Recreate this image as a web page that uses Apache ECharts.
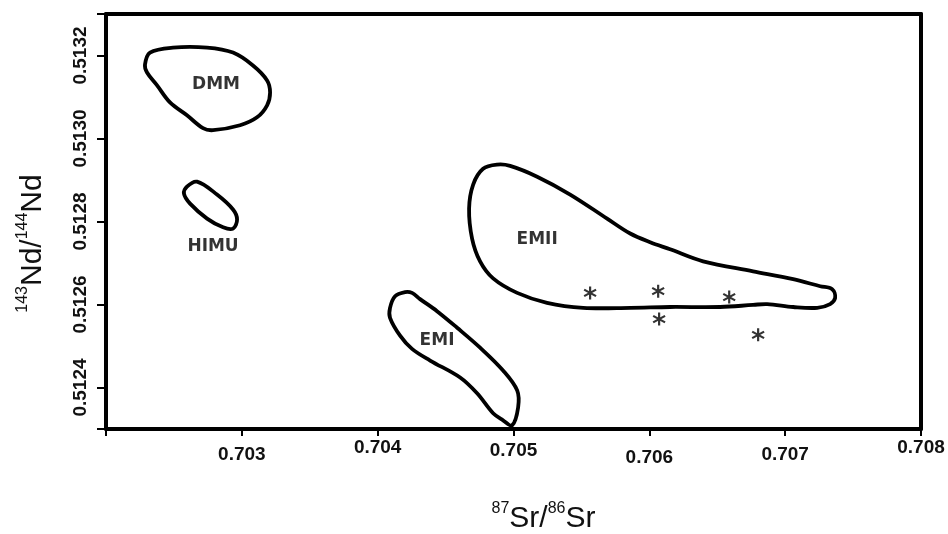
<!DOCTYPE html>
<html>
<head>
<meta charset="utf-8">
<script src="https://cdn.jsdelivr.net/npm/echarts@6/dist/echarts.min.js"></script>
<style>
  html, body { margin: 0; padding: 0; background: #fff; }
  #chart { width: 948px; height: 534px; }
</style>
</head>
<body>
<div id="chart"></div>
<script>
// 区域轮廓，每个点为 [87Sr/86Sr, 143Nd/144Nd]
const dmm = [
  [0.702287, 0.513178], [0.702324, 0.513207], [0.702493, 0.513219], [0.702744, 0.513219],
  [0.702935, 0.513207], [0.703082, 0.513176], [0.703186, 0.513140], [0.703208, 0.513111],
  [0.703186, 0.513080], [0.703112, 0.513051], [0.702987, 0.513032], [0.702788, 0.513020],
  [0.702714, 0.513025], [0.702596, 0.513056], [0.702471, 0.513087], [0.702376, 0.513128],
  [0.702302, 0.513159]
]
const himu = [
  [0.702596, 0.512884], [0.702670, 0.512896], [0.702817, 0.512865], [0.702935, 0.512829],
  [0.702965, 0.512805], [0.702935, 0.512783], [0.702862, 0.512786], [0.702744, 0.512807],
  [0.702619, 0.512843], [0.702574, 0.512867]
]
const emii = [
  [0.704879, 0.512937], [0.704975, 0.512934], [0.705174, 0.512908], [0.705417, 0.512865],
  [0.705689, 0.512807], [0.705859, 0.512771], [0.706006, 0.512750], [0.706153, 0.512733],
  [0.706396, 0.512704], [0.706764, 0.512680], [0.707059, 0.512661], [0.707258, 0.512644],
  [0.707346, 0.512637], [0.707368, 0.512616], [0.707331, 0.512601], [0.707236, 0.512592],
  [0.707059, 0.512594], [0.706867, 0.512601], [0.706764, 0.512599], [0.706521, 0.512594],
  [0.706153, 0.512594], [0.705859, 0.512592], [0.705513, 0.512592], [0.705247, 0.512604],
  [0.705027, 0.512628], [0.704850, 0.512663], [0.704754, 0.512704], [0.704695, 0.512759],
  [0.704673, 0.512831], [0.704703, 0.512889], [0.704776, 0.512927]
]
const emi = [
  [0.704202, 0.512630], [0.704253, 0.512628], [0.704312, 0.512613], [0.704437, 0.512584],
  [0.704585, 0.512544], [0.704754, 0.512496], [0.704923, 0.512441], [0.705027, 0.512393],
  [0.705034, 0.512352], [0.704990, 0.512309], [0.704923, 0.512321], [0.704850, 0.512338],
  [0.704732, 0.512386], [0.704607, 0.512424], [0.704386, 0.512465], [0.704253, 0.512493],
  [0.704165, 0.512525], [0.704091, 0.512568], [0.704091, 0.512592], [0.704128, 0.512620]
]
const regions = [dmm, himu, emii, emi]

// 区域名称及其位置
const regionNames = ['DMM', 'HIMU', 'EMII', 'EMI']
const regionLabelX = [0.702810, 0.702788, 0.705174, 0.704437]
const regionLabelY = [0.513131, 0.512740, 0.512757, 0.512513]

// 样品点
const sampleX = [0.705564, 0.706065, 0.706072, 0.706588, 0.706801]
const sampleY = [0.512628, 0.512632, 0.512565, 0.512618, 0.512527]

// 刻度
const xTickValues = [0.702, 0.703, 0.704, 0.705, 0.706, 0.707, 0.708]
const xLabelValues = [0.703, 0.704, 0.705, 0.706, 0.707, 0.708]
const yTickValues = [0.5123, 0.5124, 0.5126, 0.5128, 0.5130, 0.5132, 0.5133]
const yLabelValues = [0.5124, 0.5126, 0.5128, 0.5130, 0.5132]

// x 轴标签的上下错位（原图手工排版）
const xLabelDrop = { '0.703': 7, '0.704': 0, '0.705': 3, '0.706': 10, '0.707': 7, '0.708': 0 }

const FONT = 'Liberation Sans, Arial, sans-serif'
const $chart = document.getElementById('chart')
const chart = echarts.init($chart)

// 星号符号
const starPath = 'path://M42 0L58 0L58 100L42 100Z' +
  'M2.7 31.9L10.7 18.1L97.3 68.1L89.3 81.9Z' +
  'M10.7 81.9L2.7 68.1L89.3 18.1L97.3 31.9Z'

const xRich = {}
Object.keys(xLabelDrop).forEach((k, i) => {
  xRich['t' + i] = {
    fontFamily: FONT, fontWeight: 'bold', fontSize: 19, color: '#111',
    padding: [xLabelDrop[k], 0, 0, 0]
  }
})

const supStyle = { fontFamily: FONT, fontSize: 16, color: '#111', verticalAlign: 'top', lineHeight: 36 }
const mainStyle = { fontFamily: FONT, fontSize: 30, color: '#111', lineHeight: 36 }

const frameLine = { show: true, lineStyle: { color: '#000', width: 4 } }

const option = {
  animation: false,
  backgroundColor: '#fff',
  grid: { left: 106, right: 27, top: 14, bottom: 105, outerBoundsMode: 'none' },
  xAxis: [
    {
      type: 'value',
      min: 0.702,
      max: 0.708,
      position: 'bottom',
      axisLine: frameLine,
      splitLine: { show: false },
      axisTick: {
        show: true, inside: false, length: 7, customValues: xTickValues,
        lineStyle: { color: '#000', width: 2 }
      },
      axisLabel: {
        show: true,
        margin: 9,
        customValues: xLabelValues,
        formatter(value) {
          const key = value.toFixed(3)
          const idx = Object.keys(xLabelDrop).indexOf(key)
          return `{t${idx}|${key}}`
        },
        rich: xRich
      },
      name: '{sup|87}{main|Sr/}{sup|86}{main|Sr}',
      nameLocation: 'middle',
      nameGap: 72,
      nameTextStyle: {
        padding: [0, 0, 0, 60],
        rich: { sup: supStyle, main: mainStyle }
      }
    },
    {
      type: 'value',
      min: 0.702,
      max: 0.708,
      position: 'top',
      axisLine: frameLine,
      axisTick: { show: false },
      axisLabel: { show: false },
      splitLine: { show: false }
    }
  ],
  yAxis: [
    {
      type: 'value',
      min: 0.5123,
      max: 0.5133,
      position: 'left',
      axisLine: frameLine,
      splitLine: { show: false },
      axisTick: {
        show: true, inside: false, length: 9, customValues: yTickValues,
        lineStyle: { color: '#000', width: 2 }
      },
      axisLabel: {
        show: true,
        rotate: 90,
        margin: 16,
        customValues: yLabelValues,
        fontFamily: FONT,
        fontWeight: 'bold',
        fontSize: 19,
        color: '#111',
        formatter(value) {
          return value.toFixed(4)
        }
      },
      name: '{sup|143}{main|Nd/}{sup|144}{main|Nd}',
      nameLocation: 'middle',
      nameRotate: 90,
      nameGap: 55,
      nameTextStyle: {
        padding: [0, 44, 0, 0],
        rich: { sup: supStyle, main: mainStyle }
      }
    },
    {
      type: 'value',
      min: 0.5123,
      max: 0.5133,
      position: 'right',
      axisLine: frameLine,
      axisTick: { show: false },
      axisLabel: { show: false },
      splitLine: { show: false }
    }
  ],
  series: [
    {
      name: '区域',
      type: 'custom',
      coordinateSystem: 'cartesian2d',
      silent: true,
      data: regions.map((pts, i) => ({ name: regionNames[i], value: pts[0] })),
      renderItem(params, api) {
        const points = regions[params.dataIndex].map(p => api.coord(p))
        return {
          type: 'polygon',
          shape: { points: points, smooth: 0.35 },
          style: { fill: 'none', stroke: '#000', lineWidth: 3.8 }
        }
      }
    },
    {
      name: '区域名称',
      type: 'scatter',
      symbolSize: 0,
      silent: true,
      data: regionNames.map((n, i) => ({ name: n, value: [regionLabelX[i], regionLabelY[i]] })),
      label: {
        show: true,
        position: 'inside',
        formatter: '{b}',
        fontFamily: 'DejaVu Sans, sans-serif',
        fontWeight: 'bold',
        fontSize: 17,
        color: '#000'
      }
    },
    {
      name: '样品',
      type: 'scatter',
      symbol: starPath,
      symbolSize: 13,
      silent: true,
      itemStyle: { color: '#000' },
      data: sampleX.map((x, i) => [x, sampleY[i]])
    }
  ]
}

chart.setOption(option)
</script>
</body>
</html>
